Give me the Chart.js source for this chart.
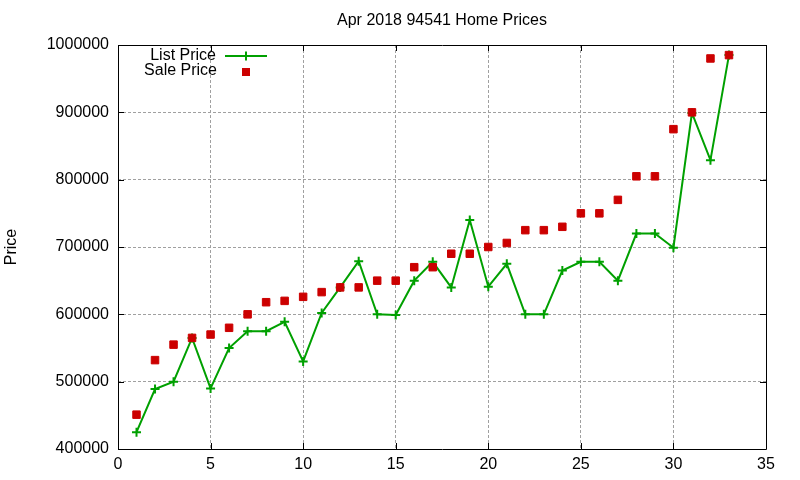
<!DOCTYPE html>
<html>
<head>
<meta charset="utf-8">
<script src="https://cdn.jsdelivr.net/npm/chart.js@4"></script>
<style>
  html, body { margin: 0; padding: 0; background: #fff; }
  #wrap { width: 800px; height: 480px; }
</style>
</head>
<body>
<div id="wrap"><canvas id="c" width="800" height="480"></canvas></div>
<script>
const chartTitle = "Apr 2018 94541 Home Prices";
const yAxisTitle = "Price";
const seriesNames = ["List Price", "Sale Price"];
const categories = [1,2,3,4,5,6,7,8,9,10,11,12,13,14,15,16,17,18,19,20,21,22,23,24,25,26,27,28,29,30,31,32,33];
const listPrice = [425000,489000,500000,565000,490000,550000,575000,575000,589000,530000,
                   602000,640000,679000,600000,599000,650000,678000,640000,740000,641000,
                   675000,600000,600000,665000,678000,678000,650000,720000,720000,699000,
                   899000,829000,985000];
const salePrice = [451000,532000,555000,565000,570000,580000,600000,618000,620000,626000,
                   633000,640000,640000,650000,650000,670000,670000,690000,690000,700000,
                   706000,725000,725000,730000,750000,750000,770000,805000,805000,875000,
                   900000,980000,985000];
const xTicks = [0,5,10,15,20,25,30,35];
const yTicks = [400000,500000,600000,700000,800000,900000,1000000];

const FONT = "'Liberation Sans', Arial, sans-serif";
const GREEN = "#00a000";
const RED = "#cc0000";

const toPts = (vals) => vals.map((v, i) => ({x: categories[i], y: v}));

const framePlugin = {
  id: 'frame',
  afterDatasetsDraw(chart) {
    const ctx = chart.ctx;
    const a = chart.chartArea;
    const xs = chart.scales.x, ys = chart.scales.y;
    const L = 6;
    ctx.save();
    ctx.strokeStyle = '#000';
    ctx.lineWidth = 1;
    ctx.beginPath();
    ctx.rect(Math.round(a.left) + 0.5, Math.round(a.top) + 0.5,
             Math.round(a.right - a.left), Math.round(a.bottom - a.top));
    ctx.stroke();
    ctx.beginPath();
    yTicks.forEach(v => {
      const y = Math.round(ys.getPixelForValue(v)) + 0.5;
      ctx.moveTo(a.left, y); ctx.lineTo(a.left + L, y);
      ctx.moveTo(a.right, y); ctx.lineTo(a.right - L, y);
    });
    xTicks.forEach(v => {
      const x = Math.round(xs.getPixelForValue(v)) + 0.5;
      ctx.moveTo(x, a.bottom); ctx.lineTo(x, a.bottom - L);
      ctx.moveTo(x, a.top); ctx.lineTo(x, a.top + L);
    });
    ctx.stroke();

    ctx.font = "16px " + FONT;
    ctx.fillStyle = '#000';
    // title centred over the plot area
    ctx.textAlign = 'center';
    ctx.textBaseline = 'middle';
    ctx.fillText(chartTitle, (a.left + a.right) / 2, 21);

    // legend (gnuplot style: text then sample)
    ctx.textAlign = 'right';
    ctx.fillText(seriesNames[0], 216, 56);
    ctx.fillText(seriesNames[1], 217, 71);
    ctx.strokeStyle = GREEN;
    ctx.lineWidth = 2;
    ctx.beginPath();
    ctx.moveTo(225, 56); ctx.lineTo(267, 56);
    ctx.stroke();
    Chart.helpers.drawPoint(ctx, {pointStyle: 'cross', radius: 4.5, borderWidth: 2}, 246, 56);
    ctx.fillStyle = RED;
    ctx.fillRect(242, 68, 8, 8);
    ctx.restore();
  }
};

new Chart(document.getElementById('c'), {
  type: 'scatter',
  data: {
    datasets: [
      {
        label: seriesNames[0],
        data: toPts(listPrice),
        showLine: true,
        borderColor: GREEN,
        backgroundColor: GREEN,
        borderWidth: 2,
        pointStyle: 'cross',
        pointRadius: 4.5,
        pointBorderWidth: 2,
        pointBorderColor: GREEN,
        tension: 0,
        order: 1
      },
      {
        label: seriesNames[1],
        data: toPts(salePrice),
        showLine: false,
        borderColor: RED,
        backgroundColor: RED,
        pointStyle: 'rect',
        pointRadius: 5.3,
        pointBorderWidth: 1,
        order: 0
      }
    ]
  },
  options: {
    responsive: false,
    animation: false,
    layout: { padding: { left: 0, right: 34, top: 45, bottom: 0 } },
    plugins: {
      legend: { display: false },
      tooltip: { enabled: false },
      title: { display: false }
    },
    scales: {
      x: {
        type: 'linear',
        min: 0, max: 35,
        afterBuildTicks(s) { s.ticks = xTicks.map(v => ({value: v})); },
        afterFit(s) { s.height = 31; },
        ticks: {
          color: '#000',
          font: { family: FONT, size: 16 },
          padding: 6,
          maxRotation: 0
        },
        grid: { color: '#a0a0a0', lineWidth: 1, drawTicks: false },
        border: { display: false, dash: [3, 2] }
      },
      y: {
        type: 'linear',
        min: 400000, max: 1000000,
        afterBuildTicks(s) { s.ticks = yTicks.map(v => ({value: v})); },
        afterFit(s) { s.width = 118; },
        ticks: {
          color: '#000',
          font: { family: FONT, size: 16 },
          padding: 9,
          callback: (v) => String(v)
        },
        title: {
          display: true,
          text: yAxisTitle,
          color: '#000',
          font: { family: FONT, size: 16 },
          padding: { top: 2, bottom: 0 }
        },
        grid: { color: '#a0a0a0', lineWidth: 1, drawTicks: false },
        border: { display: false, dash: [3, 2] }
      }
    }
  },
  plugins: [framePlugin]
});
</script>
</body>
</html>
